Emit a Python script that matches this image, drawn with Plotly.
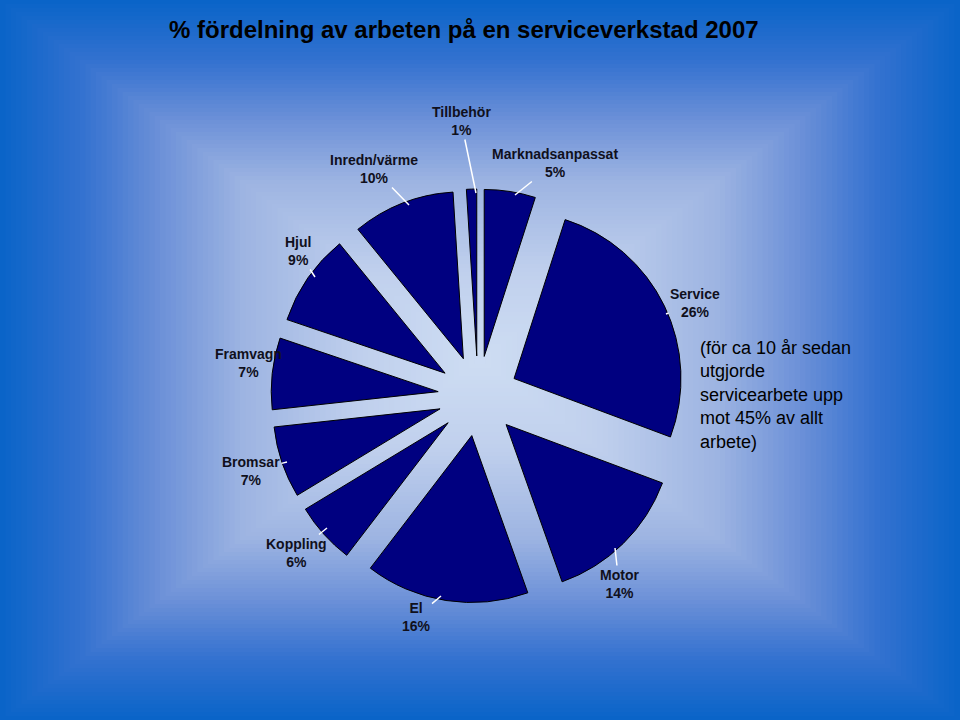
import plotly.graph_objects as go

W, H = 960, 720

# arbetsfördelning, medurs från klockan 12
kategorier = ["Marknadsanpassat", "Service", "Motor", "El", "Koppling",
              "Bromsar", "Framvagn", "Hjul", "Inredn/värme", "Tillbehör"]
andel = [5, 26, 14, 16, 6, 7, 7, 9, 10, 1]

titel = "% fördelning av arbeten på en serviceverkstad 2007"
notering = ["(för ca 10 år sedan", "utgjorde", "servicearbete upp",
            "mot 45% av allt", "arbete)"]

# etikettplacering i pixlar: (spets på tårtbit, textens mitt)
etikett_pos = {
    "Marknadsanpassat": ((515, 195), (555, 163)),
    "Service": ((666, 314), (695, 303)),
    "Motor": ((615, 548), (619, 584)),
    "El": ((441, 596), (416, 617)),
    "Koppling": ((327, 528), (296, 553)),
    "Bromsar": ((287, 462), (251, 471)),
    "Framvagn": ((270, 362), (248, 363)),
    "Hjul": ((315, 277), (298, 251)),
    "Inredn/värme": ((409, 205), (374, 169)),
    "Tillbehör": ((476, 193), (461, 121)),
}

FONT = "Liberation Sans, Arial, sans-serif"


def px(x, y):
    return x / W, 1 - y / H


def bg_color(t):
    stops = [(0.0, (10, 100, 200)), (0.17, (53, 114, 208)), (0.33, (109, 145, 216)),
             (0.5, (157, 180, 226)), (0.75, (192, 208, 237)), (1.0, (206, 221, 243))]
    for (t0, c0), (t1, c1) in zip(stops, stops[1:]):
        if t <= t1:
            f = (t - t0) / (t1 - t0)
            return "rgb(%d,%d,%d)" % tuple(round(a + (b - a) * f) for a, b in zip(c0, c1))
    return "rgb(%d,%d,%d)" % stops[-1][1]


# rektangulär gradient (från mitten) som bakgrund
shapes = []
n = 90
for i in range(n):
    t = i / n
    shapes.append(dict(
        type="rect", xref="paper", yref="paper", layer="below",
        x0=0.5 * t, x1=1 - 0.5 * t, y0=0.5 * t, y1=1 - 0.5 * t,
        fillcolor=bg_color(t), line=dict(width=0),
    ))

cx, cy, rr = 478, 396, 207
fig = go.Figure(go.Pie(
    labels=kategorier,
    values=andel,
    sort=False,
    direction="clockwise",
    rotation=0,
    pull=0.24,
    textinfo="none",
    marker=dict(colors=["#000080"] * len(kategorier), line=dict(color="#000000", width=1)),
    domain=dict(x=[(cx - rr) / W, (cx + rr) / W], y=[1 - (cy + rr) / H, 1 - (cy - rr) / H]),
    showlegend=False,
    hoverinfo="label+percent",
))

annotations = []
for lab, v in zip(kategorier, andel):
    (tx, ty), (lx, ly) = etikett_pos[lab]
    x, y = px(tx, ty)
    annotations.append(dict(
        x=x, y=y, xref="paper", yref="paper",
        ax=lx - tx, ay=ly - ty,
        text=f"<b>{lab}</b><br><b>{v}%</b>",
        showarrow=True, arrowhead=0, arrowwidth=1.5, arrowcolor="white", standoff=0,
        font=dict(family=FONT, size=14, color="#10101c"),
        align="center",
    ))

tx, ty = px(167, 30)
annotations.append(dict(
    x=tx, y=ty, xref="paper", yref="paper", xanchor="left", yanchor="middle",
    text=f"<b>{titel}</b>", showarrow=False,
    font=dict(family=FONT, size=24, color="#000000"),
))

nx, ny = px(698, 336)
annotations.append(dict(
    x=nx, y=ny, xref="paper", yref="paper", xanchor="left", yanchor="top",
    text="<br>".join(notering), showarrow=False, align="left",
    font=dict(family=FONT, size=18, color="#000000"),
))

fig.update_layout(
    width=W, height=H,
    margin=dict(l=0, r=0, t=0, b=0),
    paper_bgcolor="#0a64c8",
    plot_bgcolor="rgba(0,0,0,0)",
    shapes=shapes,
    annotations=annotations,
)

fig.write_html(
    "out.html",
    config={"displayModeBar": False},
    post_script="document.body.style.margin='0';document.body.style.overflow='hidden';",
)
